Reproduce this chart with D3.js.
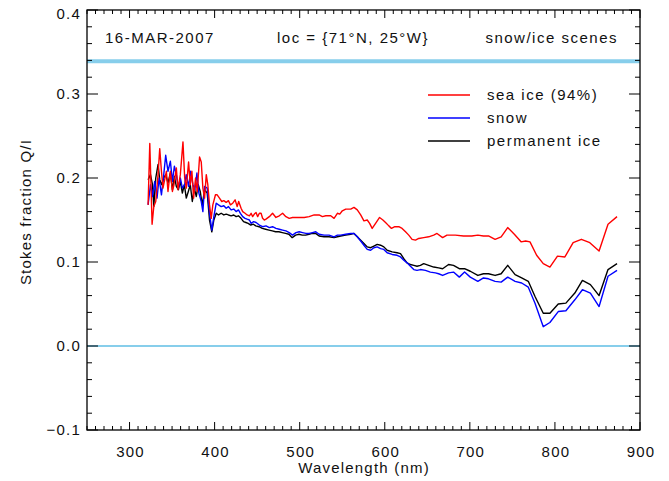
<!DOCTYPE html>
<html><head><meta charset="utf-8">
<script src="https://cdn.jsdelivr.net/npm/d3@7"></script>
<style>body{margin:0;background:#fff}svg{display:block}text{font-family:"Liberation Sans",Arial,sans-serif;fill:#111}</style>
</head><body><svg id="c" width="669" height="481"></svg>
<script>
const wlSea=[321.8,323.8,326.5,328.5,330.8,333.5,335.5,337.5,339.3,343.3,345.2,348,350.4,352.2,355,356.9,359.7,362.8,364.8,366.7,369.4,371.4,373.3,375.3,377.6,379.6,382.3,384.3,386.2,388.2,390.2,392,394,396,397.9,401,403,405.7,408.4,410.8,413.6,416.3,418.6,421.3,424.1,426.5,428.3,431.1,433,435.8,438.2,440.9,442.9,444.7,446.7,448.7,450.6,452.6,454.6,456.4,458.4,460.4,464.3,468.1,472.1,476,479.9,483.8,487.7,491.6,495.6,499.4,505.3,511.1,517,522.8,526.7,530.7,536.5,540.4,544.3,547.1,550.1,554.1,560,563.8,567.7,571.7,575.5,579.4,582.2,585.2,589.2,593.9,597.8,600.9,604.8,607.9,611.8,616.5,620.4,624.4,628.2,632.1,636.1,639.9,645.8,651.6,657.5,661.4,668,673.1,682.9,692.6,702.3,709.4,716,721.9,729.7,736.8,744.5,752.3,760.2,765.6,770.7,778.5,786.3,794.1,803,811.7,821.4,831.1,841,851.9,862.4,873];
const qSea=[0.168,0.241,0.145,0.166,0.172,0.204,0.235,0.208,0.188,0.208,0.184,0.208,0.184,0.192,0.212,0.186,0.204,0.243,0.200,0.188,0.219,0.192,0.208,0.176,0.200,0.184,0.225,0.219,0.188,0.176,0.204,0.192,0.168,0.152,0.168,0.180,0.180,0.176,0.172,0.173,0.171,0.173,0.168,0.170,0.174,0.166,0.172,0.164,0.160,0.158,0.156,0.155,0.158,0.154,0.157,0.159,0.154,0.158,0.158,0.152,0.150,0.151,0.154,0.158,0.153,0.155,0.158,0.154,0.152,0.153,0.153,0.153,0.153,0.154,0.156,0.156,0.154,0.155,0.155,0.152,0.158,0.157,0.161,0.163,0.163,0.165,0.162,0.156,0.149,0.150,0.146,0.140,0.146,0.153,0.150,0.147,0.143,0.140,0.142,0.142,0.140,0.136,0.132,0.127,0.126,0.128,0.129,0.130,0.132,0.134,0.129,0.132,0.132,0.131,0.131,0.132,0.131,0.131,0.127,0.130,0.141,0.133,0.124,0.125,0.124,0.108,0.098,0.094,0.107,0.106,0.123,0.127,0.123,0.113,0.145,0.154];
const wlSnow=[321.8,324.6,327,329.6,332.3,334.7,337.5,340.2,342.5,345.2,348,350.4,352.7,355,357.4,359.7,362.1,364.8,366.6,369.4,371.8,374.5,376.8,379.2,381.5,384.3,386.2,388.2,391.3,394,396.7,399.1,401.9,404.6,407.7,410.8,413.6,416.3,419.4,422.5,425.3,428,430.3,433,435.8,438.2,440.9,442.9,445.9,448.7,452.6,456.4,460.4,464.3,468.1,472.1,476,479.9,483.8,487.7,491.6,495.6,499.4,503.3,507.3,511.1,515,518.9,522.8,528.7,534.5,540.4,544.3,548.2,554.1,560,563.8,567.7,571.7,575.5,579.4,583.4,587.2,591.1,595.1,598.9,602.8,608.7,614.5,618.5,622.4,626.2,630.2,634.1,637.9,641.9,647.8,653.6,659.5,663.3,668,675,680.8,687.6,693.8,700.5,709.4,716,721.9,729.7,736.8,744.5,753.2,760.9,768.7,776.6,786.3,794.1,803.9,812.9,823.4,832.3,841.7,851.9,862.4,873];
const qSnow=[0.168,0.192,0.178,0.196,0.176,0.200,0.180,0.204,0.227,0.208,0.220,0.196,0.214,0.204,0.188,0.200,0.188,0.192,0.204,0.190,0.208,0.192,0.186,0.206,0.182,0.172,0.160,0.190,0.188,0.158,0.138,0.154,0.170,0.168,0.166,0.167,0.164,0.166,0.162,0.163,0.160,0.162,0.158,0.154,0.152,0.151,0.150,0.146,0.148,0.147,0.144,0.142,0.143,0.141,0.142,0.140,0.139,0.138,0.137,0.135,0.132,0.135,0.136,0.135,0.134,0.134,0.135,0.136,0.133,0.132,0.132,0.130,0.132,0.132,0.133,0.134,0.134,0.130,0.125,0.120,0.115,0.114,0.117,0.118,0.116,0.115,0.111,0.109,0.108,0.106,0.102,0.099,0.095,0.091,0.090,0.091,0.090,0.088,0.087,0.086,0.084,0.087,0.088,0.082,0.088,0.082,0.077,0.081,0.080,0.077,0.076,0.082,0.077,0.075,0.070,0.051,0.023,0.028,0.041,0.042,0.055,0.067,0.063,0.047,0.083,0.090];
const wlPerm=[321.8,324.6,327,328.5,330.8,333.5,335.5,337.8,340.2,342.5,345.2,348,350.4,352.7,355,357.4,359.7,362.1,364.4,366.7,369.1,371.4,373.8,376.1,378.5,380.8,383.1,385.5,388.2,391.3,394,396.7,399.1,401.9,404.6,407.7,410.8,413.6,416.3,419.4,422.5,425.3,428,431.1,434,436.7,439.4,442.5,445.6,448.3,452.2,456,460,463.9,467.8,471.7,475.6,479.5,483.4,487.3,491.2,495.2,499.1,503,507,510.9,514.8,518.7,522.8,528.7,534.5,540.4,544.3,548.2,554.1,560,563.8,567.7,571.7,575.5,579.4,583.4,587.2,591.1,595.1,598.9,602.8,608.7,614.5,618.5,622.4,626.2,630.2,634.1,637.9,641.9,645.8,651.6,657.5,663.3,668,675,680.8,687.6,693.8,700.5,709.4,716,721.9,729.7,736.8,744.5,753.2,760.9,768.7,776.6,786.3,794.1,803.9,812.9,823.4,832.3,841.7,851.9,862.4,873];
const qPerm=[0.198,0.204,0.192,0.166,0.200,0.216,0.198,0.192,0.200,0.204,0.194,0.206,0.186,0.202,0.190,0.186,0.196,0.182,0.192,0.176,0.184,0.192,0.172,0.188,0.178,0.192,0.184,0.168,0.186,0.182,0.150,0.136,0.150,0.158,0.156,0.158,0.156,0.157,0.156,0.155,0.156,0.154,0.155,0.152,0.148,0.147,0.146,0.144,0.145,0.143,0.142,0.140,0.139,0.138,0.137,0.136,0.136,0.135,0.134,0.133,0.129,0.132,0.133,0.132,0.132,0.133,0.134,0.134,0.131,0.130,0.130,0.129,0.130,0.131,0.132,0.133,0.134,0.130,0.126,0.122,0.118,0.117,0.119,0.121,0.120,0.118,0.114,0.112,0.111,0.110,0.104,0.099,0.097,0.096,0.095,0.096,0.098,0.096,0.094,0.093,0.092,0.097,0.096,0.092,0.092,0.089,0.084,0.086,0.086,0.084,0.086,0.096,0.085,0.081,0.077,0.059,0.039,0.039,0.050,0.051,0.063,0.078,0.073,0.060,0.091,0.098];
const seriesNames=["sea ice (94%)","snow","permanent ice"];
const seriesColors=["#ff0000","#0000ff","#000000"];
const xTicks=[300,400,500,600,700,800,900];
const yTicks=[-0.1,0.0,0.1,0.2,0.3,0.4];
const refLines=[0.0,0.339];
const annotations=["16-MAR-2007","loc = {71\u00B0N, 25\u00B0W}","snow/ice scenes"];

const svg=d3.select("#c");
const L=87,R=640,T=10,B=430;
const x=d3.scaleLinear().domain([250,900]).range([L,R]);
const y=d3.scaleLinear().domain([-0.1,0.4]).range([B,T]);

svg.append("line").attr("x1",L).attr("x2",R).attr("y1",y(refLines[0])).attr("y2",y(refLines[0]))
  .attr("stroke","#87ceeb").attr("stroke-width",2);
svg.append("line").attr("x1",L).attr("x2",R).attr("y1",y(refLines[1])).attr("y2",y(refLines[1]))
  .attr("stroke","#87ceeb").attr("stroke-width",4);

const series=[[wlSea,qSea],[wlSnow,qSnow],[wlPerm,qPerm]];
const line=d3.line().x(d=>x(d[0])).y(d=>y(d[1]));
[2,1,0].forEach(i=>{
  const pts=series[i][0].map((w,k)=>[w,series[i][1][k]]);
  svg.append("path").datum(pts).attr("d",line).attr("fill","none")
    .attr("stroke",seriesColors[i]).attr("stroke-width",1.4).attr("stroke-linejoin","round");
});

const g=svg.append("g");
g.append("rect").attr("x",L).attr("y",T).attr("width",R-L).attr("height",B-T)
  .attr("fill","none").attr("stroke","#000").attr("stroke-width",1.3);
d3.range(250,901,10).forEach(v=>{
  const len=(v%100===0)?8:4;
  g.append("line").attr("x1",x(v)).attr("x2",x(v)).attr("y1",B).attr("y2",B-len).attr("stroke","#000").attr("stroke-width",1);
  g.append("line").attr("x1",x(v)).attr("x2",x(v)).attr("y1",T).attr("y2",T+len).attr("stroke","#000").attr("stroke-width",1);
});
d3.range(-0.1,0.4001,0.02).forEach(v=>{
  const major=Math.abs(Math.round(v*10)-v*10)<1e-6;
  const len=major?11:5;
  g.append("line").attr("x1",L).attr("x2",L+len).attr("y1",y(v)).attr("y2",y(v)).attr("stroke","#000").attr("stroke-width",1);
  g.append("line").attr("x1",R).attr("x2",R-len).attr("y1",y(v)).attr("y2",y(v)).attr("stroke","#000").attr("stroke-width",1);
});
const ls="1.2px";
xTicks.forEach(v=>{
  g.append("text").attr("x",x(v)+1).attr("y",457).attr("text-anchor","middle").attr("font-size",15).style("letter-spacing",ls).text(v);
});
yTicks.forEach(v=>{
  g.append("text").attr("x",81).attr("y",y(v)+(v===0.4?9:5)).attr("text-anchor","end").attr("font-size",15).style("letter-spacing",ls).text(d3.format(".1f")(v).replace("-","\u2212"));
});
svg.append("text").attr("x",364).attr("y",473).attr("text-anchor","middle").attr("font-size",15).style("letter-spacing",ls).text("Wavelength (nm)");
svg.append("text").attr("transform","translate(31,212) rotate(-90)").attr("text-anchor","middle").attr("font-size",15).style("letter-spacing",ls).text("Stokes fraction Q/I");

svg.append("text").attr("x",105).attr("y",43).attr("font-size",15).style("letter-spacing","1.5px").text(annotations[0]);
svg.append("text").attr("x",277).attr("y",43).attr("font-size",15).style("letter-spacing","1.5px").text(annotations[1]);
svg.append("text").attr("x",618).attr("y",43).attr("text-anchor","end").attr("font-size",15).style("letter-spacing","1.5px").text(annotations[2]);

seriesNames.forEach((n,i)=>{
  const yy=95+i*23;
  svg.append("line").attr("x1",428).attr("x2",470).attr("y1",yy).attr("y2",yy).attr("stroke",seriesColors[i]).attr("stroke-width",1.4);
  svg.append("text").attr("x",487).attr("y",yy+5).attr("font-size",15).style("letter-spacing","1.5px").text(n);
});
</script></body></html>
